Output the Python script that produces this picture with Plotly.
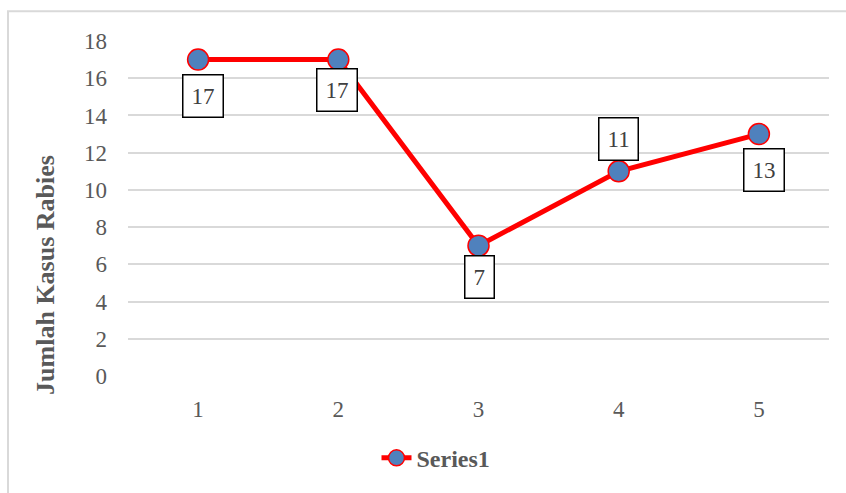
import plotly.graph_objects as go

categories = [1, 2, 3, 4, 5]
values = [17, 17, 7, 11, 13]
y_ticks = [0, 2, 4, 6, 8, 10, 12, 14, 16, 18]
series_name = "Series1"
y_title = "Jumlah Kasus Rabies"

# label offsets (pixels) relative to each point
label_shift = [(5, -36), (-1, -30), (1, -31), (0, 32), (5, -36)]

W, H = 846, 493
L, R, T, B = 128, 17, 41, 114
pw, ph = W - L - R, H - T - B

serif = "Liberation Serif"
gray = "#595959"

fig = go.Figure()
fig.add_trace(go.Scatter(
    x=categories, y=values, mode="lines+markers", name="<b>" + series_name + "</b>",
    line=dict(color="#ff0000", width=5),
    marker=dict(size=21, color="#4f81bd", line=dict(color="#ff0000", width=1.5)),
    showlegend=True,
))

for c, v, (dx, dy) in zip(categories, values, label_shift):
    fig.add_annotation(
        x=c, y=v, xref="x", yref="y", text=str(v), showarrow=False,
        xshift=dx, yshift=dy,
        font=dict(family=serif, size=23, color="#404040"),
        bgcolor="white", bordercolor="black", borderwidth=1.5, borderpad=8,
    )

# y-axis title (placed like the original, lower than plot centre)
fig.add_annotation(
    x=(46 - L) / pw, y=(H - B - 277) / ph, xref="paper", yref="paper",
    text="<b>" + y_title + "</b>", textangle=-90, showarrow=False,
    xanchor="center", yanchor="middle",
    font=dict(family=serif, size=26, color=gray),
)

# outer chart frame (only top/left visible in the crop)
fig.add_shape(type="rect", xref="paper", yref="paper",
              x0=(8 - L) / pw, x1=(W + 20 - L) / pw,
              y0=-(H + 20 - T - ph) / ph, y1=(H - B - 11) / ph,
              line=dict(color="#d9d9d9", width=2), fillcolor="rgba(0,0,0,0)",
              layer="below")

fig.update_layout(
    width=W, height=H,
    margin=dict(l=L, r=R, t=T, b=B),
    paper_bgcolor="white", plot_bgcolor="white",
    font=dict(family=serif, color=gray),
    xaxis=dict(range=[0.5, 5.5], tickvals=categories, ticktext=[str(c) for c in categories],
               showgrid=False, zeroline=False, showline=False, ticks="",
               tickfont=dict(family=serif, size=23, color=gray), ticklabelstandoff=17),
    yaxis=dict(range=[0, 18], tickvals=y_ticks, showgrid=True, gridcolor="#d9d9d9", gridwidth=1.5,
               zeroline=False, showline=False, ticks="",
               tickfont=dict(family=serif, size=23, color=gray), ticklabelstandoff=20),
    legend=dict(orientation="h", x=(436 - L) / pw, xanchor="center",
                y=(H - B - 462) / ph, yanchor="middle",
                font=dict(family=serif, size=24, color=gray)),
)
fig.write_html("out.html")
